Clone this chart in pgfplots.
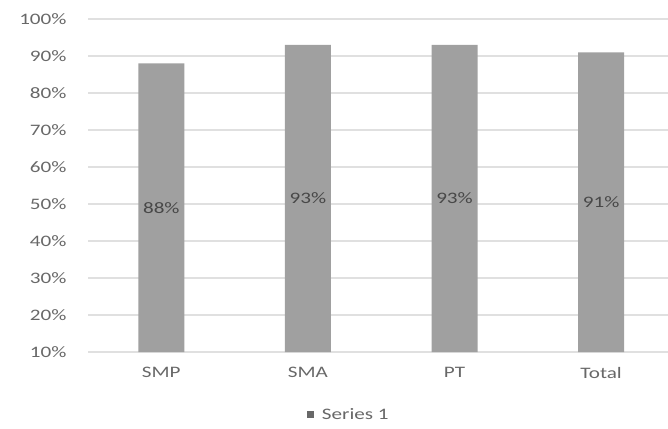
\documentclass[border=0pt]{standalone}
\usepackage{fontspec}
\setmainfont{Carlito}[FakeStretch=1.32]
\usepackage{pgfplots}
\pgfplotsset{compat=1.18}

\definecolor{bargray}{HTML}{A0A0A0}
\definecolor{gridgray}{HTML}{E0E0E0}
\definecolor{ticktext}{HTML}{686868}
\definecolor{labeltext}{HTML}{484848}

\begin{document}
\begin{tikzpicture}[x=1pt,y=1pt]
    \useasboundingbox (0,0) rectangle (668,428);
    \begin{axis}[
        at={(88pt,76pt)},
        anchor=south west,
        scale only axis,
        width=580pt,
        height=333pt,
        ybar,
        bar width=46pt,
        xmin=-0.5, xmax=3.456,
        ymin=10, ymax=100,
        ytick={10,20,...,100},
        yticklabel={\pgfmathprintnumber{\tick}\%},
        xtick=data,
        xticklabels={SMP,SMA,PT,Total},
        /pgf/number format/assume math mode=true,
        axis line style={draw=none},
        major tick length=0pt,
        ymajorgrids=true,
        grid style={gridgray, line width=1.2pt},
        tick label style={font=\fontsize{16}{19}\selectfont, text=ticktext},
        yticklabel style={xshift=-18pt},
        xticklabel style={yshift=-12pt},
        nodes near coords={\pgfmathprintnumber{\pgfplotspointmeta}\%},
        visualization depends on={rawy \as \rawy},
        every node near coord/.append style={
            anchor=center, yshift=-(\rawy-10)*1.85pt,
            font=\fontsize{16}{19}\selectfont, text=labeltext},
        legend style={
            at={(0.372,-0.189)}, anchor=west, draw=none,
            font=\fontsize{16}{19}\selectfont, text=ticktext,
            /tikz/every odd column/.append style={column sep=6pt}},
        legend image code/.code={\fill[ticktext] (0pt,-3.5pt) rectangle (7pt,3.5pt);},
    ]
        \addplot[fill=bargray, draw=none]
        coordinates{(0,88)(1,93)(2,93)(3,91)};
        \addlegendentry{Series 1}
    \end{axis}
\end{tikzpicture}
\end{document}
